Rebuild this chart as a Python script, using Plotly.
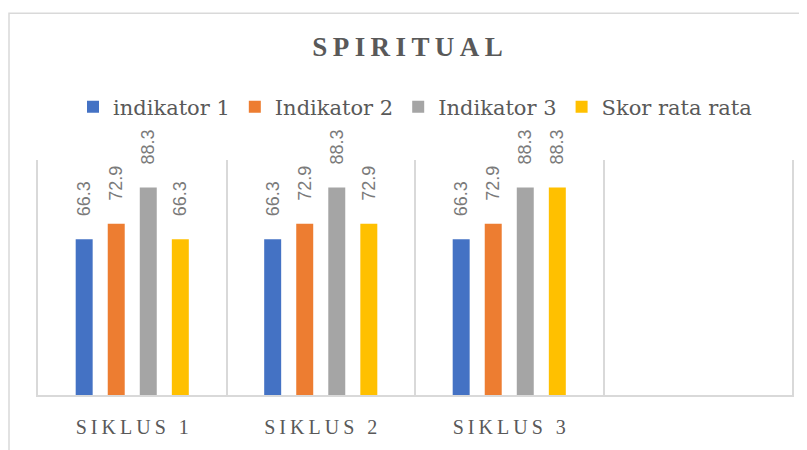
import plotly.graph_objects as go

categories = ["SIKLUS 1", "SIKLUS 2", "SIKLUS 3", " "]
series_names = ["indikator 1", "Indikator 2", "Indikator 3", "Skor rata rata"]
indikator_1 = [66.3, 66.3, 66.3]
indikator_2 = [72.9, 72.9, 72.9]
indikator_3 = [88.3, 88.3, 88.3]
skor_rata = [66.3, 72.9, 88.3]
colors = ["#4472C4", "#ED7D31", "#A5A5A5", "#FFC000"]
title_text = "SPIRITUAL"

TS = "\u2009"

def spaced(s):
    return TS.join(list(s))

OFF = 8  # page body margin
W, H = 807 - OFF, 450 - OFF
# reference pixel coordinates of plot area
PL, PR, PT, PB = 38, 792, 160, 400
ML, MT = PL - OFF, PT - OFF
MR = W - (PR - OFF)
MB = H - (PB - OFF)

def px2paper_x(p):
    return (p - PL) / (PR - PL)

def px2paper_y(p):
    return (PB - p) / (PB - PT)

fig = go.Figure()
for name, vals, col in zip(series_names, [indikator_1, indikator_2, indikator_3, skor_rata], colors):
    fig.add_trace(go.Bar(
        x=categories[:3], y=vals, name=name,
        marker=dict(color=col, line=dict(width=0)),
        text=vals, texttemplate="\u00a0\u00a0\u00a0\u00a0%{y}",
        textposition="outside", textangle=-90, constraintext="none",
        textfont=dict(family="Liberation Sans", size=18, color="#7a7a7a"),
        cliponaxis=False,
    ))

fig.update_layout(
    width=W, height=H,
    margin=dict(l=ML, r=MR, t=MT, b=MB, pad=0),
    paper_bgcolor="white", plot_bgcolor="white",
    barmode="group", bargap=0.32, bargroupgap=0.47,
    font=dict(family="Liberation Serif", color="#595959"),
    title=dict(text="<b>" + spaced(title_text) + "</b>", x=0.5, xanchor="center",
               y=1 - (47 - OFF) / H, yanchor="middle",
               font=dict(family="Liberation Serif", size=27, color="#595959")),
    legend=dict(orientation="h", x=0.5, xanchor="center", y=px2paper_y(106), yanchor="middle",
                font=dict(family="DejaVu Serif", size=21, color="#595959"),
                bgcolor="rgba(0,0,0,0)", itemwidth=30, traceorder="normal"),
    xaxis=dict(type="category", categoryorder="array", categoryarray=categories,
               range=[-0.5, 3.5], tickson="boundaries", ticks="", showgrid=True,
               gridcolor="#d9d9d9", gridwidth=1.5, showline=True, linecolor="#d9d9d9",
               linewidth=1.5, tickvals=categories, ticktext=[spaced(c) for c in categories],
               tickfont=dict(family="Liberation Serif", size=20, color="#595959"),
               ticklabelstandoff=13),
    yaxis=dict(range=[0, 100], showgrid=False, showticklabels=False, zeroline=False,
               showline=True, mirror=True, linecolor="#d9d9d9", linewidth=1.5),
    shapes=[dict(type="rect", xref="paper", yref="paper",
                 x0=px2paper_x(9), x1=px2paper_x(830), y0=px2paper_y(480), y1=px2paper_y(10),
                 line=dict(color="#d9d9d9", width=1.5), fillcolor="rgba(0,0,0,0)", layer="below")],
    showlegend=True,
)

fig.write_html("out.html")
